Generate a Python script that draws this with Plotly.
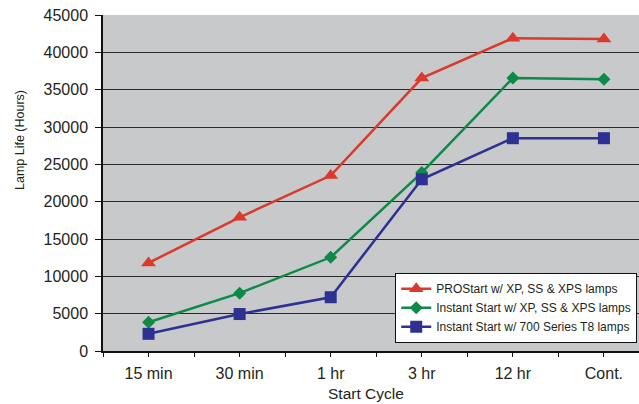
import plotly.graph_objects as go

categories = ["15 min", "30 min", "1 hr", "3 hr", "12 hr", "Cont."]
prostart = [11800, 17900, 23500, 36550, 41900, 41800]
instant_xp = [3850, 7750, 12550, 23900, 36550, 36400]
instant_700 = [2300, 4950, 7200, 23000, 28500, 28500]
series_names = [
    "PROStart w/ XP, SS & XPS lamps",
    "Instant Start w/ XP, SS & XPS lamps",
    "Instant Start w/ 700 Series T8 lamps",
]
y_ticks = [0, 5000, 10000, 15000, 20000, 25000, 30000, 35000, 40000, 45000]

FONT = "Liberation Sans, Arial, sans-serif"
xpos = list(range(len(categories)))

fig = go.Figure()
styles = [
    ("#d93a2b", "triangle-up", 13),
    ("#0d8a47", "diamond", 10),
    ("#2e3192", "square", 12),
]
for name, vals, (col, sym, sz) in zip(series_names, [prostart, instant_xp, instant_700], styles):
    fig.add_trace(go.Scatter(
        x=xpos, y=vals, name=name, mode="lines+markers",
        line=dict(color=col, width=2.5),
        marker=dict(symbol=sym, size=sz, color=col),
    ))

fig.update_layout(
    width=639, height=404,
    margin=dict(l=103, r=0, t=15, b=53),
    paper_bgcolor="white",
    plot_bgcolor="#c8c9cb",
    font=dict(family=FONT, color="#231f20", size=16),
    showlegend=True,
    legend=dict(
        x=0.9963, y=0.024, xanchor="right", yanchor="bottom",
        bgcolor="white", bordercolor="#111", borderwidth=1.2,
        font=dict(family=FONT, size=12, color="#231f20"),
        tracegroupgap=0, itemwidth=30,
    ),
    xaxis=dict(
        range=[-0.5, 5.385],
        tickmode="array", tickvals=xpos, ticktext=categories,
        showgrid=False, zeroline=False,
        showline=True, linecolor="#111", linewidth=1.5,
        ticks="outside", ticklen=4, tickcolor="#111", tickwidth=1.2,
        minor=dict(dtick=0.5, tick0=0.5, ticks="outside", ticklen=4, tickcolor="#111", tickwidth=1.2),
        tickfont=dict(size=16, family=FONT),
        ticklabelstandoff=3,
    ),
    yaxis=dict(
        range=[0, 45000],
        tickmode="array", tickvals=y_ticks, ticktext=[str(v) for v in y_ticks],
        showgrid=True, gridcolor="#2a2a2a", gridwidth=1.3,
        zeroline=False,
        showline=True, linecolor="#111", linewidth=1.5,
        ticks="outside", ticklen=6, tickcolor="#111", tickwidth=1.2,
        tickfont=dict(size=16, family=FONT),
        ticklabelstandoff=4,
    ),
    annotations=[
        dict(text="Lamp Life (Hours)", xref="paper", yref="paper",
             x=(20 - 103) / 536, y=(351 - 140) / 336, textangle=-90,
             showarrow=False, font=dict(size=12.5, family=FONT, color="#231f20"),
             xanchor="center", yanchor="middle"),
        dict(text="Start Cycle", xref="paper", yref="paper",
             x=(366 - 103) / 536, y=(351 - 393) / 336,
             showarrow=False, font=dict(size=15.5, family=FONT, color="#231f20"),
             xanchor="center", yanchor="middle"),
    ],
)

fig.write_html("out.html", config={"displayModeBar": False},
               post_script="document.body.style.margin='0';")
